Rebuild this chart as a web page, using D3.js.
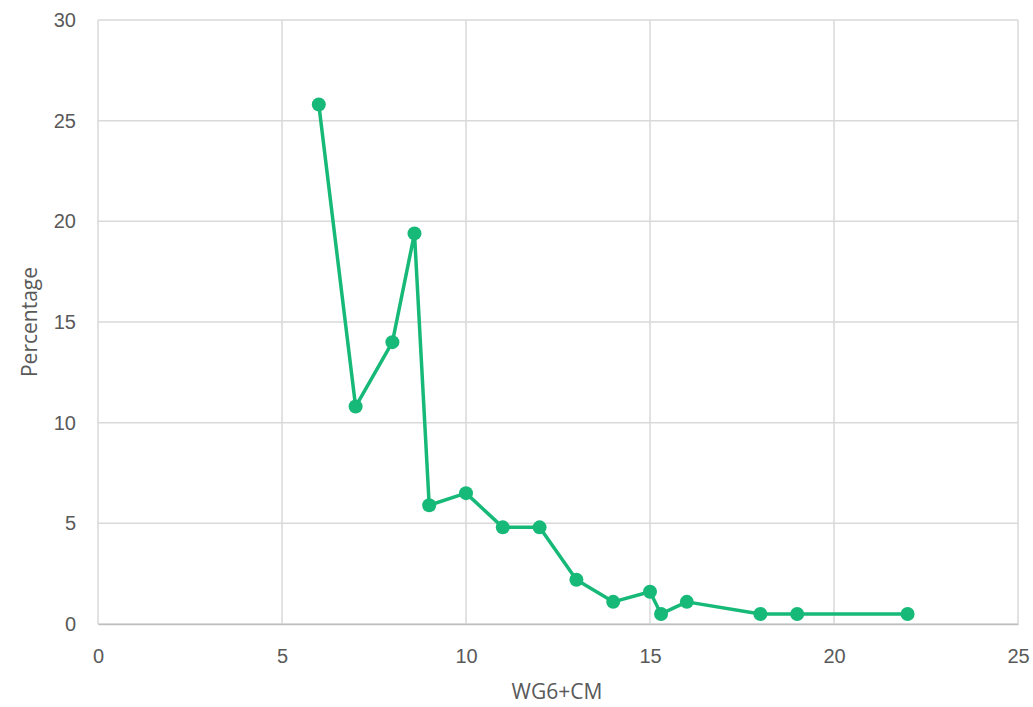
<!DOCTYPE html>
<html>
<head>
<meta charset="utf-8">
<script src="https://d3js.org/d3.v7.min.js"></script>
<style>
  body { margin: 0; background: #fff; }
  svg { display: block; font-family: "Open Sans", sans-serif; }
  .tick text { fill: #595959; font-size: 20px; }
  .title { fill: #595959; font-size: 21px; }
</style>
</head>
<body>
<svg id="chart" width="1033" height="707"></svg>
<script>
// values
const xs = [6, 7, 8, 8.6, 9, 10, 11, 12, 13, 14, 15, 15.3, 16, 18, 19, 22]
const ys = [25.8, 10.8, 14, 19.4, 5.9, 6.5, 4.8, 4.8, 2.2, 1.1, 1.6, 0.5, 1.1, 0.5, 0.5, 0.5]
const xTicks = [0, 5, 10, 15, 20, 25]
const yTicks = [0, 5, 10, 15, 20, 25, 30]

const svg = d3.select("#chart")
const padL = 98, padR = 1018, padT = 20, padB = 624

const x = d3.scaleLinear().domain([0, 25]).range([padL, padR])
const y = d3.scaleLinear().domain([0, 30]).range([padB, padT])

// grid
svg.append("g")
  .selectAll("line")
  .data(xTicks)
  .join("line")
  .attr("x1", d => x(d)).attr("x2", d => x(d))
  .attr("y1", padT).attr("y2", padB)
  .attr("stroke", "#d9d9d9").attr("stroke-width", 1.5)
svg.append("g")
  .selectAll("line")
  .data(yTicks)
  .join("line")
  .attr("x1", padL).attr("x2", padR)
  .attr("y1", d => y(d)).attr("y2", d => y(d))
  .attr("stroke", "#d9d9d9").attr("stroke-width", 1.5)

const xAxis = svg.append("g")
  .attr("transform", `translate(0,${padB})`)
  .call(d3.axisBottom(x).tickValues(xTicks).tickSize(0).tickPadding(25))
xAxis.select(".domain").attr("stroke", "#bfbfbf").attr("stroke-width", 1.5)

const yAxis = svg.append("g")
  .attr("transform", `translate(${padL},0)`)
  .call(d3.axisLeft(y).tickValues(yTicks).tickSize(0).tickPadding(22))
yAxis.select(".domain").remove()

svg.append("text").attr("class", "title")
  .attr("x", 557).attr("y", 699)
  .attr("text-anchor", "middle").text("WG6+CM")
svg.append("text").attr("class", "title")
  .attr("transform", `translate(37,${(padT + padB) / 2}) rotate(-90)`)
  .attr("text-anchor", "middle").text("Percentage")

const pts = xs.map((d, i) => [d, ys[i]])
const green = "#17b978"

svg.append("path")
  .datum(pts)
  .attr("fill", "none")
  .attr("stroke", green)
  .attr("stroke-width", 3.5)
  .attr("stroke-linejoin", "round")
  .attr("d", d3.line().x(d => x(d[0])).y(d => y(d[1])))

svg.append("g")
  .selectAll("circle")
  .data(pts)
  .join("circle")
  .attr("cx", d => x(d[0]))
  .attr("cy", d => y(d[1]))
  .attr("r", 7)
  .attr("fill", green)
</script>
</body>
</html>
